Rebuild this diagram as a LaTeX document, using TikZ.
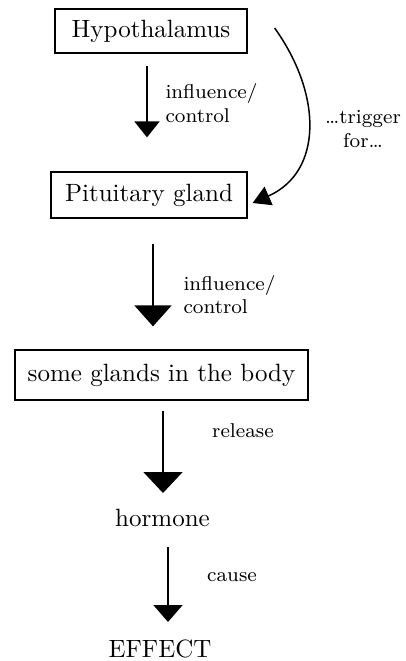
\documentclass[tikz,border=0pt]{standalone}
\usetikzlibrary{arrows.meta,calc}
\tikzset{
  organ/.style={
    draw,
    line width = 0.5pt,
    inner sep = 0pt,
    font = \normalsize
  },
  stage/.style={
    inner sep = 0pt,
    font = \normalsize
  },
  note/.style={
    align = left,
    inner sep = 0pt,
    font = \footnotesize
  },
  flow/.style 2 args={
    line width = 0.8pt,
    -{Triangle[width=#1,length=#2]}
  },
}

\begin{document}
\begin{tikzpicture}[x=0.4pt,y=-0.4pt]
    \useasboundingbox (0,0) rectangle (406,661);
    \node[organ, minimum width=76.8pt, minimum height=17.6pt] (hyp) at (151,31) {Hypothalamus};
    \node[organ, minimum width=78.4pt, minimum height=18.4pt] (pit) at (149,195) {Pituitary gland};
    \node[organ, minimum width=117.2pt, minimum height=20pt] (gl) at (161.5,375) {some glands in the body};
    \node[stage] (horm) at (162.5,517.5) {hormone};
    \node[stage] (eff) at (160,648.5) {EFFECT};
    \draw[flow={10pt}{6.4pt}] ($(hyp.south)+(-4,12)$) -- ($(pit.north)+(-2,-34)$);
    \draw[flow={14.8pt}{8.4pt}] ($(pit.south)+(4,25)$) -- ($(gl.north)+(-8.5,-23)$);
    \draw[flow={15.6pt}{8.4pt}] ($(gl.south)+(1.5,10)$) -- ($(horm)+(0.5,-24.5)$);
    \draw[flow={11.6pt}{6.8pt}] ($(horm)+(5.5,29.5)$) -- ($(eff)+(8,-26.5)$);
    % curved trigger arrow
    \draw[line width=0.6pt, -{Triangle[width=8pt,length=7pt]}] ($(hyp.east)+(27,-3)$)
        .. controls ($(hyp.east)+(75,64)$) and ($(pit.east)+(75,-23)$) .. ($(pit.east)+(5,8)$);
    \node[note, anchor=west] (c1) at (165,103) {influence/\\control};
    \node[note, anchor=west] (c2) at (183,294.5) {influence/\\control};
    \node[note, align=center] (trig) at (363,129) {\ldots trigger\\for\ldots};
    \node[note] (rel) at (243,431) {release};
    \node[note] (cau) at (232,577) {cause};
\end{tikzpicture}
\end{document}
